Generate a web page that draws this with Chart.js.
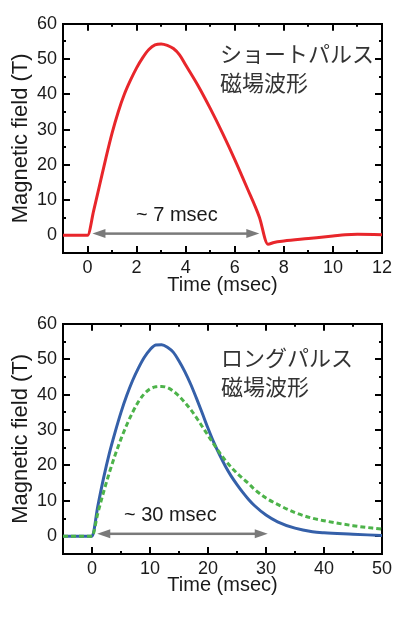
<!DOCTYPE html>
<html>
<head>
<meta charset="utf-8">
<script src="https://cdn.jsdelivr.net/npm/chart.js@4.4.1/dist/chart.umd.min.js"></script>
<style>
  html, body { margin: 0; padding: 0; background: #fff; }
  body { width: 395px; height: 623px; position: relative; overflow: hidden; }
  .panel { position: absolute; left: 0; width: 395px; height: 300px; }
  #shortPanel { top: 0; }
  #longPanel { top: 300px; }
</style>
</head>
<body>
<div class="panel" id="shortPanel"><canvas id="shortChart" width="395" height="300"></canvas></div>
<div class="panel" id="longPanel"><canvas id="longChart" width="395" height="300"></canvas></div>
<script>
// --- Short pulse (time in msec, field in T) ---
const shortTime  = [-1, 0, 0.25, 0.5, 0.75, 1, 1.25, 1.5, 1.75, 2, 2.25, 2.5, 2.75, 3, 3.25, 3.5, 3.75, 4, 4.5, 5, 5.5, 6, 6.5, 7, 7.35, 7.6, 8, 9, 10, 10.5, 11, 12];
const shortField = [0, 0, 7, 14.5, 22, 29, 35, 40, 44, 47.5, 50.4, 52.7, 54, 54.3, 53.9, 53, 51.2, 48.3, 42.5, 36, 29, 21.5, 13.5, 5.2, -2.5, -2.0, -1.6, -0.9, -0.2, 0.2, 0.3, 0.2];

// --- Long pulse ---
const longTime       = [-5, 0, 1, 2, 3, 4, 5, 6, 7, 8, 9, 10, 11, 12, 13, 14, 15, 16, 17, 18, 19, 20, 21, 22, 23, 24, 25, 26, 27, 28, 30, 32, 35, 38, 40, 45, 50];
const longFieldBlue  = [0, 0, 8.5, 16.5, 23.5, 29.5, 35, 39.8, 44, 47.5, 50.5, 52.7, 54, 54.1, 53.4, 52, 49.5, 46.5, 43, 39, 34.8, 30.5, 26.5, 23, 19.8, 17, 14.6, 12.4, 10.4, 8.7, 6.0, 4.1, 2.3, 1.3, 1.0, 0.6, 0.2];
const longFieldGreen = [0, 0, 6.5, 12.5, 18, 23, 27.5, 31.5, 35, 38, 40.2, 41.6, 42.2, 42.3, 42, 41, 39.6, 37.8, 35.8, 33.5, 31, 28.5, 26, 23.6, 21.4, 19.5, 17.8, 16.3, 14.9, 13.3, 10.8, 9, 6.7, 5.1, 4.4, 3.0, 2.0];

// --- Tick labels ---
const yTickLabels = [0, 10, 20, 30, 40, 50, 60];
const shortXTickLabels = [0, 2, 4, 6, 8, 10, 12];
const longXTickLabels = [0, 10, 20, 30, 40, 50];

// --- Annotations ---
const shortTitle = ['ショートパルス', '磁場波形'];
const longTitle = ['ロングパルス', '磁場波形'];
const shortSpan = [0.2, 7.0];
const longSpan = [0.9, 30.3];

const FONT = "'Liberation Sans', Arial, sans-serif";
const JP_FONT = "'Noto Sans CJK JP', sans-serif";
const INK = '#1a1a1a';
const TICK_IN = 7;               // inward tick length (major)
const MINOR_OUTER = [4, 100];    // minor tick when the line starts at the border
const MINOR_INNER = [0, 4, 4, 100]; // minor tick when the line starts inside the plot

const toPoints = (xs, ys) => xs.map((x, i) => ({ x: x, y: ys[i] }));

/**
 * Grid settings giving black inward ticks only (no grid lines).
 * Minor ticks are shortened with a dash pattern.
 */
function inwardTicks(labels, minorDash) {
    return {
        display: true,
        drawOnChartArea: false,
        drawTicks: true,
        tickLength: -TICK_IN,
        lineWidth: 2,
        tickWidth: 2,
        tickColor: '#000',
        tickBorderDash: (c) => (c.tick && !labels.includes(c.tick.value)) ? minorDash : []
    };
}

const frameBorder = { display: true, width: 2, color: '#000' };

/**
 * Duration arrow (under the curves), its label and the Japanese caption
 */
const pulseNotes = {
    id: 'pulseNotes',
    beforeDatasetsDraw(chart, args, opts) {
        const { ctx, scales: { x, y } } = chart;
        const x0 = x.getPixelForValue(opts.span[0]);
        const x1 = x.getPixelForValue(opts.span[1]);
        const py = y.getPixelForValue(opts.spanY);
        ctx.save();
        ctx.fillStyle = '#7a7a7a';
        ctx.fillRect(x0 + 8, py - 1.25, x1 - x0 - 16, 2.5);
        [[x0, 1], [x1, -1]].forEach(([px, dir]) => {
            ctx.beginPath();
            ctx.moveTo(px, py);
            ctx.lineTo(px + dir * 13, py - 4.5);
            ctx.lineTo(px + dir * 13, py + 4.5);
            ctx.closePath();
            ctx.fill();
        });
        ctx.restore();
    },
    afterDatasetsDraw(chart, args, opts) {
        const { ctx, chartArea: a, scales: { x, y } } = chart;
        ctx.save();
        ctx.fillStyle = INK;
        ctx.font = '20px ' + FONT;
        ctx.textAlign = 'center';
        ctx.textBaseline = 'middle';
        ctx.fillText(opts.spanText, x.getPixelForValue(opts.textAt[0]), y.getPixelForValue(opts.textAt[1]));

        ctx.fillStyle = '#333';
        ctx.font = '22px ' + JP_FONT;
        ctx.textAlign = 'left';
        opts.title.forEach((line, i) => {
            ctx.fillText(line, a.left + opts.titleOffset[0], a.top + opts.titleOffset[1] + i * 29);
        });
        ctx.restore();
    }
};

function buildChart(canvasId, cfg) {
    const ctx = document.getElementById(canvasId).getContext('2d');
    return new Chart(ctx, {
        type: 'line',
        data: { datasets: cfg.datasets },
        options: {
            responsive: false,
            animation: false,
            events: [],
            layout: { padding: { top: 19, right: 13, left: 0, bottom: 0 } },
            plugins: {
                legend: { display: false },
                tooltip: { enabled: false },
                pulseNotes: cfg.notes
            },
            elements: { point: { radius: 0 } },
            scales: {
                x: {
                    type: 'linear',
                    position: 'bottom',
                    min: cfg.xMin,
                    max: cfg.xMax,
                    afterFit: (scale) => {
                        scale.height = cfg.xHeight;
                        scale.paddingLeft = 0;
                        scale.paddingRight = 0;
                    },
                    grid: inwardTicks(cfg.xLabels, MINOR_OUTER),
                    border: frameBorder,
                    ticks: {
                        stepSize: cfg.xStep,
                        autoSkip: false,
                        maxRotation: 0,
                        padding: 4 + TICK_IN,
                        color: INK,
                        font: { family: FONT, size: 18 },
                        callback: (v) => cfg.xLabels.includes(v) ? v : ''
                    },
                    title: {
                        display: true,
                        text: 'Time (msec)',
                        color: INK,
                        font: { family: FONT, size: 20 },
                        padding: { top: 0, bottom: 3 }
                    }
                },
                xTop: {
                    type: 'linear',
                    axis: 'x',
                    position: 'top',
                    min: cfg.xMin,
                    max: cfg.xMax,
                    afterFit: (scale) => {
                        scale.height = 0;
                        scale.paddingLeft = 0;
                        scale.paddingRight = 0;
                    },
                    grid: inwardTicks(cfg.xLabels, MINOR_INNER),
                    border: frameBorder,
                    ticks: { stepSize: cfg.xStep, autoSkip: false, display: false }
                },
                y: {
                    type: 'linear',
                    position: 'left',
                    min: -5,
                    max: 60,
                    afterFit: (scale) => { scale.width = 63; },
                    grid: inwardTicks(yTickLabels, MINOR_INNER),
                    border: frameBorder,
                    ticks: {
                        stepSize: 5,
                        autoSkip: false,
                        padding: 6 + TICK_IN,
                        color: INK,
                        font: { family: FONT, size: 18 },
                        callback: (v) => yTickLabels.includes(v) ? v : ''
                    },
                    title: {
                        display: true,
                        text: 'Magnetic field (T)',
                        color: INK,
                        font: { family: FONT, size: 22 },
                        padding: { top: 8, bottom: 0 }
                    }
                },
                yRight: {
                    type: 'linear',
                    axis: 'y',
                    position: 'right',
                    min: -5,
                    max: 60,
                    afterFit: (scale) => { scale.width = 0; },
                    grid: inwardTicks(yTickLabels, MINOR_OUTER),
                    border: frameBorder,
                    ticks: { stepSize: 5, autoSkip: false, display: false }
                }
            }
        },
        plugins: [pulseNotes]
    });
}

buildChart('shortChart', {
    xMin: -1, xMax: 12, xStep: 1, xHeight: 47,
    xLabels: shortXTickLabels,
    datasets: [{
        data: toPoints(shortTime, shortField),
        borderColor: '#e8262b',
        borderWidth: 3,
        cubicInterpolationMode: 'monotone'
    }],
    notes: {
        span: shortSpan, spanY: 0.5,
        spanText: '~ 7 msec', textAt: [3.64, 5.6],
        title: shortTitle, titleOffset: [157, 30]
    }
});

buildChart('longChart', {
    xMin: -5, xMax: 50, xStep: 5, xHeight: 46,
    xLabels: longXTickLabels,
    datasets: [{
        data: toPoints(longTime, longFieldGreen),
        borderColor: '#4db34a',
        borderWidth: 3,
        borderDash: [5, 3],
        cubicInterpolationMode: 'monotone'
    }, {
        data: toPoints(longTime, longFieldBlue),
        borderColor: '#3560a9',
        borderWidth: 3,
        cubicInterpolationMode: 'monotone'
    }],
    notes: {
        span: longSpan, spanY: 0.7,
        spanText: '~ 30 msec', textAt: [13.5, 5.75],
        title: longTitle, titleOffset: [158, 34]
    }
});
</script>
</body>
</html>
